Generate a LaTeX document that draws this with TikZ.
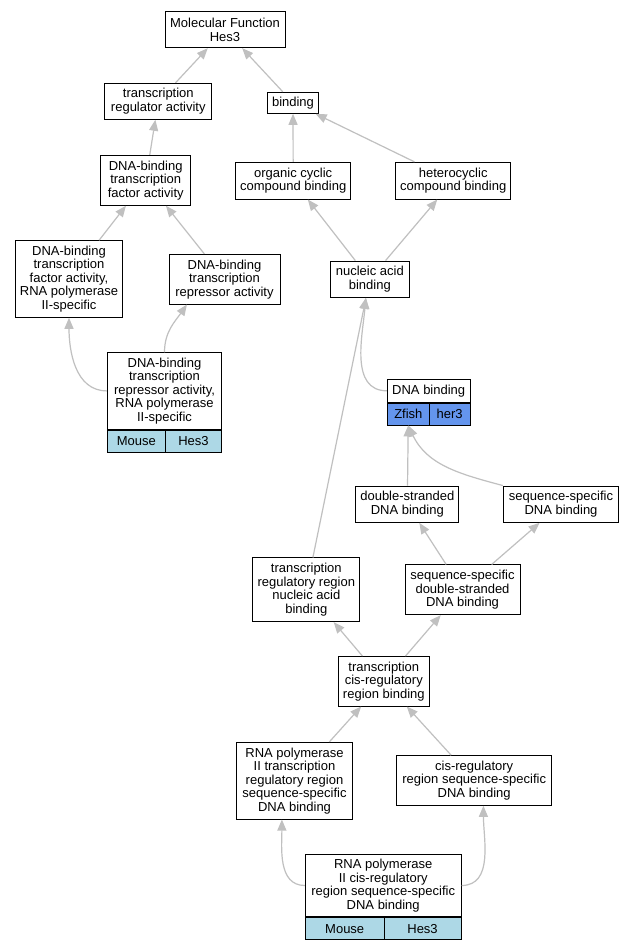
\documentclass[tikz,border=0pt]{standalone}
\usepackage{fontspec}
\setmainfont{Liberation Sans}
\usetikzlibrary{arrows.meta}

\begin{document}
\begin{tikzpicture}[x=1pt,y=1pt,
    term/.style={
      draw=black,
      line width=1pt,
      fill=white,
      align=center,
      inner sep=0pt,
      font=\fontsize{13}{13.5}\selectfont
    },
    mousecell/.style={term,fill=lblue,minimum height=22pt},
    fishcell/.style={term,fill=fblue,minimum height=21.7pt},
    isa/.style={draw=egray,line width=1.2pt,-{Triangle[length=11pt,width=9pt]}}]

\definecolor{lblue}{RGB}{173,216,230}
\definecolor{fblue}{RGB}{100,149,237}
\definecolor{egray}{RGB}{192,192,192}

\path[fill=white] (0,0) rectangle (635,-949);

% terms
\node[term,minimum width=120pt,minimum height=36pt] (mf) at (225,-29.7) {Molecular Function\\Hes3};
\node[term,minimum width=106.7pt,minimum height=36pt] (tra) at (158.3,-101.3) {transcription\\regulator activity};
\node[term,minimum width=50.6pt,minimum height=21pt] (bind) at (293,-102.8) {binding};
\node[term,minimum width=90pt,minimum height=50pt] (dbtf) at (145.7,-180.3) {DNA-binding\\transcription\\factor activity};
\node[term,minimum width=115pt,minimum height=36.7pt] (occb) at (293.2,-180.7) {organic cyclic\\compound binding};
\node[term,minimum width=115pt,minimum height=36.7pt] (hcb) at (453.2,-180.7) {heterocyclic\\compound binding};
\node[term,minimum width=106.6pt,minimum height=76.6pt] (dbtfp) at (69,-279) {DNA-binding\\transcription\\factor activity,\\RNA polymerase\\II-specific};
\node[term,minimum width=111pt,minimum height=49.7pt] (dbtr) at (224.5,-279.2) {DNA-binding\\transcription\\repressor activity};
\node[term,minimum width=79pt,minimum height=36.3pt] (nab) at (369.8,-279.2) {nucleic acid\\binding};

\node[term,minimum width=114.4pt,minimum height=76.3pt] (dbtrp) at (164.5,-390.9) {DNA-binding\\transcription\\repressor activity,\\RNA polymerase\\II-specific};
\node[mousecell,minimum width=58pt,anchor=north west] (dbtrpsp) at (dbtrp.south west) {Mouse};
\node[mousecell,minimum width=56.4pt,anchor=north east] (dbtrpgn) at (dbtrp.south east) {Hes3};

\node[term,minimum width=82.7pt,minimum height=23pt] (dnab) at (428.7,-390.8) {DNA binding};
\node[fishcell,minimum width=42pt,anchor=north west] (zf) at (dnab.south west) {Zfish};
\node[fishcell,minimum width=40.7pt,anchor=north east] (zfgn) at (dnab.south east) {her3};

\node[term,minimum width=103.3pt,minimum height=36.3pt] (dsdb) at (407.3,-504.2) {double-stranded\\DNA binding};
\node[term,minimum width=115.4pt,minimum height=36.3pt] (ssdb) at (561,-504.2) {sequence-specific\\DNA binding};
\node[term,minimum width=107.3pt,minimum height=63.7pt] (trrnab) at (306.3,-589.8) {transcription\\regulatory region\\nucleic acid\\binding};
\node[term,minimum width=115pt,minimum height=49.7pt] (ssdsdb) at (462.5,-589.8) {sequence-specific\\double-stranded\\DNA binding};
\node[term,minimum width=91pt,minimum height=49.5pt] (tcrrb) at (383.8,-681.3) {transcription\\cis-regulatory\\region binding};
\node[term,minimum width=115.6pt,minimum height=76.7pt] (rnap) at (294.5,-780.7) {RNA polymerase\\II transcription\\regulatory region\\sequence-specific\\DNA binding};
\node[term,minimum width=155pt,minimum height=49.6pt] (crssdb) at (474.2,-780.5) {cis-regulatory\\region sequence-specific\\DNA binding};

\node[term,minimum width=155.7pt,minimum height=62.4pt] (rnapcr) at (383.2,-885.5) {RNA polymerase\\II cis-regulatory\\region sequence-specific\\DNA binding};
\node[mousecell,minimum width=78.7pt,anchor=north west] (rnapcrsp) at (rnapcr.south west) {Mouse};
\node[mousecell,minimum width=77pt,anchor=north east] (rnapcrgn) at (rnapcr.south east) {Hes3};

% is_a links
\draw[isa] (tra) -- (mf);
\draw[isa] (bind) -- (mf);
\draw[isa] (dbtf) -- (tra);
\draw[isa] (occb) -- (bind);
\draw[isa] (hcb) -- (bind);
\draw[isa] (dbtfp) -- (dbtf);
\draw[isa] (dbtr) -- (dbtf);
\draw[isa] (nab) -- (occb);
\draw[isa] (nab) -- (hcb);
\draw[isa] (dbtrp.west) to[out=180,in=-90] (dbtfp.south);
\draw[isa] (dbtrp.north) to[out=90,in=235] (dbtr.214);
\draw[isa] (dnab.west) to[out=180,in=-95] (nab.258);
\draw[isa] (trrnab) -- (nab);
\draw[isa] (dsdb) -- (zf);
\draw[isa] (ssdb.north west) to[out=165,in=-65] (zf.south);
\draw[isa] (ssdsdb) -- (dsdb);
\draw[isa] (ssdsdb) -- (ssdb);
\draw[isa] (tcrrb) -- (trrnab);
\draw[isa] (tcrrb) -- (ssdsdb);
\draw[isa] (rnap) -- (tcrrb);
\draw[isa] (crssdb) -- (tcrrb);
\draw[isa] (rnapcr.west) to[out=180,in=-90] (rnap.252);
\draw[isa] (rnapcr.east) to[out=0,in=-90] (crssdb.290);

\end{tikzpicture}
\end{document}
